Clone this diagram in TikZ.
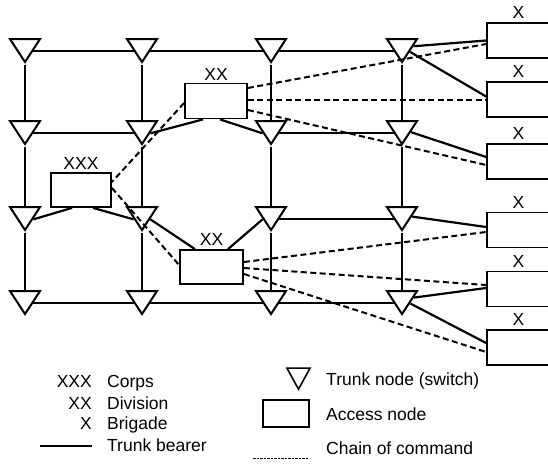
\documentclass[tikz,border=0pt]{standalone}
\usepackage{fontspec}
\setmainfont{Liberation Sans}
\usetikzlibrary{shapes.geometric,calc}
\begin{document}
\begin{tikzpicture}[x=1pt,y=-1pt,
  trunk/.style={line width=2.2pt},
  cmd/.style={line width=2pt, dash pattern=on 6pt off 3.5pt},
  tnode/.style={draw, line width=2pt, isosceles triangle, isosceles triangle stretches,
    shape border rotate=-90, minimum width=30pt, minimum height=23pt, inner sep=0pt},
  anode/.style={draw, line width=1.8pt, rectangle, minimum width=62pt, minimum height=35pt, inner sep=0pt},
  xnode/.style={anode, minimum width=63pt, label={[lab, inner sep=0pt, label distance=3pt]above:X}},
  lab/.style={font=\fontsize{17.5}{20}\selectfont, inner sep=0pt},
]
\useasboundingbox (0,0) rectangle (548,469);

% trunk nodes (centroid placed 23/6 above the mid-height line)
\foreach \r/\y in {1/51,2/133,3/219,4/303}{
  \foreach \c/\x in {1/25,2/142,3/271,4/402}{
    \node[tnode] (t\r\c) at (\x,\y-3.83) {};
  }
}

% access nodes
\node[anode, label={[lab, label distance=2pt]above:XX}] (XXu) at (216,101) {};
\node[anode, minimum width=60pt, minimum height=34pt, label={[lab, label distance=2pt]above:XXX}] (XXX) at (81,190) {};
\node[anode, minimum width=63pt, minimum height=34pt, label={[lab, label distance=3pt]above:XX}] (XXl) at (211.5,267) {};
\node[xnode] (b1) at (518.5,40.5) {};
\node[xnode] (b2) at (518.5,99.5) {};
\node[xnode] (b3) at (518.5,161.5) {};
\node[xnode] (b4) at (518.5,230) {};
\node[xnode] (b5) at (518.5,289) {};
\node[xnode] (b6) at (518.5,347.5) {};

% trunk bearers: horizontal
\foreach \a/\b in {11/12,12/13,13/14,21/22,23/24,33/34,41/42,42/43,43/44}{
  \draw[trunk] (t\a.left side) -- (t\b.right side);
}
% trunk bearers: vertical
\foreach \c in {1,2,4}{
  \draw[trunk] (t1\c.apex) -- (t2\c.lower side);
}
\draw[line width=1.3pt] (t13.apex) -- (t23.lower side);
\foreach \c in {1,2,3,4}{
  \draw[trunk] (t2\c.apex) -- (t3\c.lower side);
  \draw[trunk] (t3\c.apex) -- (t4\c.lower side);
}
% trunk bearers: to access nodes
\draw[trunk] (t22.left side) -- ($(XXu.south)+(-13,0)$);
\draw[trunk] ($(XXu.south)+(4,0)$) -- (t23.right side);
\draw[trunk] (t31.left side) -- ($(XXX.south)+(-9,0)$);
\draw[trunk] ($(XXX.south)+(12,0)$) -- (t32.right side);
\draw[trunk] (t32.left side) -- ($(XXl.north)+(-16.5,0)$);
\draw[trunk] ($(XXl.north)+(16.5,0)$) -- (t33.right side);
\draw[trunk] (t14) -- (b1.west);
\draw[trunk] (t14) -- ($(b2.west)+(0,-3)$);
\draw[trunk] (t24) -- ($(b3.west)+(0,-4.5)$);
\draw[trunk] (t34) -- ($(b4.west)+(0,-3)$);
\draw[trunk] (t44) -- ($(b5.west)+(0,-1)$);
\draw[trunk] (t44) -- ($(b6.west)+(0,-4.5)$);

% chain of command
\draw[cmd] ($(XXu.east)+(0,-13)$) -- ($(b1.west)+(0,3.5)$);
\draw[cmd] ($(XXu.east)+(0,-1)$) -- ($(b2.west)+(0,0.5)$);
\draw[cmd] ($(XXu.east)+(0,9)$) -- ($(b3.west)+(0,3.5)$);
\draw[cmd] ($(XXu.west)+(0,2)$) -- ($(XXX.east)+(0,-8)$);
\draw[cmd] ($(XXX.east)+(0,-2)$) -- ($(XXl.west)+(0,-2)$);
\draw[cmd] ($(XXl.east)+(0,-5)$) -- ($(b4.west)+(0,2)$);
\draw[cmd] ($(XXl.east)+(0,1)$) -- ($(b5.west)+(0,-4)$);
\draw[cmd] ($(XXl.east)+(0,7)$) -- ($(b6.west)+(0,4.5)$);

% legend
\node[lab, anchor=base east] (lXXX) at (92,387) {XXX};
\node[lab, anchor=base west] (lCorps) at (107,387) {Corps};
\node[lab, anchor=base east] (lXX) at (92,409) {XX};
\node[lab, anchor=base west] (lDiv) at (107,409) {Division};
\node[lab, anchor=base east] (lX) at (92,429) {X};
\node[lab, anchor=base west] (lBrig) at (107,429) {Brigade};
\node[lab, anchor=base west] (lTB) at (107,451) {Trunk bearer};
\coordinate (lt1) at (40,446);
\coordinate (lt2) at (92,446);
\draw[line width=1.5pt] (lt1) -- (lt2);

\node[tnode, minimum width=23pt, minimum height=21pt, line width=1.6pt] (ltri) at (298.5,375) {};
\node[anode, minimum width=46pt, minimum height=27pt, line width=1.6pt] (lbox) at (286,413.5) {};
\coordinate (lc1) at (253,458);
\coordinate (lc2) at (308,458);
\draw[line width=1pt, dash pattern=on 2.5pt off 1pt] (lc1) -- (lc2);
\node[lab, anchor=base west] (lTN) at (326,385) {Trunk node (switch)};
\node[lab, anchor=base west] (lAN) at (326,420) {Access node};
\node[lab, anchor=base west] (lCC) at (326,454) {Chain of command};
\end{tikzpicture}
\end{document}
